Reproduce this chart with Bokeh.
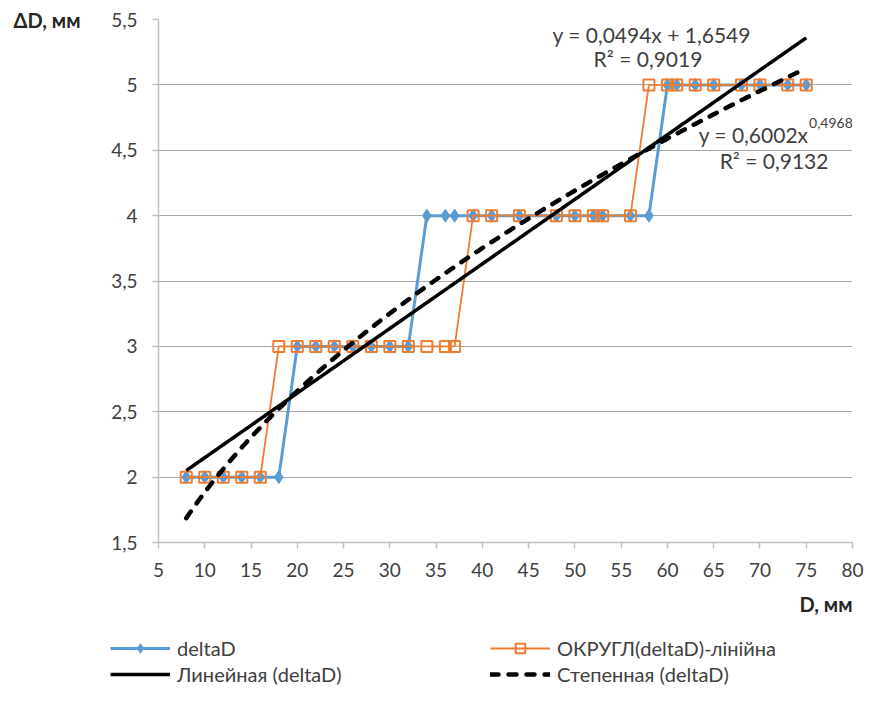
import numpy as np
from bokeh.plotting import figure
from bokeh.layouts import column, row
from bokeh.models import (Legend, LegendItem, Label, FixedTicker, Range1d,
                          LinearAxis, Title)
from bokeh.embed import file_html
from bokeh.resources import INLINE

# ---- data ----
D = [8, 10, 12, 14, 16, 18, 20, 22, 24, 26, 28, 30, 32, 34, 36, 37, 39, 41,
     44, 48, 50, 52, 53, 56, 58, 60, 61, 63, 65, 68, 70, 73, 75]
deltaD = [2, 2, 2, 2, 2, 2, 3, 3, 3, 3, 3, 3, 3, 4, 4, 4, 4, 4,
          4, 4, 4, 4, 4, 4, 4, 5, 5, 5, 5, 5, 5, 5, 5]
rounded = [2, 2, 2, 2, 2, 3, 3, 3, 3, 3, 3, 3, 3, 3, 3, 3, 4, 4,
           4, 4, 4, 4, 4, 4, 5, 5, 5, 5, 5, 5, 5, 5, 5]
lin_coef = [0.0494, 1.6549]      # y = a*x + b
pow_coef = [0.6002, 0.4968]      # y = a*x^b
x_ticks = [5, 10, 15, 20, 25, 30, 35, 40, 45, 50, 55, 60, 65, 70, 75, 80]
y_ticks = [1.5, 2, 2.5, 3, 3.5, 4, 4.5, 5, 5.5]
y_tick_labels = ["1,5", "2", "2,5", "3", "3,5", "4", "4,5", "5", "5,5"]
series_names = ["deltaD", "ОКРУГЛ(deltaD)-лінійна",
                "Линейная (deltaD)", "Степенная (deltaD)"]

FONT = "Lato"
TXT = "#404040"
blue = "#5B9BD5"
orange = "#ED7D31"

W = 869
H_MAIN = 628
H_LEG = 58

p = figure(width=W, height=H_MAIN, output_backend="svg", toolbar_location=None,
           x_range=Range1d(5, 80), y_range=Range1d(1.5, 5.5),
           min_border_left=158, min_border_right=17, min_border_top=19,
           min_border_bottom=H_MAIN - 542)
p.outline_line_color = None
p.background_fill_color = "white"
p.border_fill_color = "white"

# axes
for ax in (p.xaxis[0], p.yaxis[0]):
    ax.axis_line_color = "#BFBFBF"
    ax.axis_line_width = 1.5
    ax.major_tick_line_color = "#BFBFBF"
    ax.major_tick_line_width = 1.5
    ax.major_tick_in = 0
    ax.major_tick_out = 6
    ax.minor_tick_line_color = None
    ax.major_label_text_font = FONT
    ax.major_label_text_font_size = "19px"
    ax.major_label_text_color = TXT
p.xaxis.ticker = FixedTicker(ticks=x_ticks)
p.yaxis.ticker = FixedTicker(ticks=y_ticks)
p.yaxis.major_label_overrides = {t: l for t, l in zip(y_ticks, y_tick_labels)}
p.xaxis.major_label_standoff = 14
p.yaxis.major_label_standoff = 15
p.xgrid.grid_line_color = None
p.ygrid.grid_line_color = "#A6A6A6"
p.ygrid.grid_line_width = 1

# y axis title: an outer left axis with one labelled tick at the top
ytitle_axis = LinearAxis(ticker=FixedTicker(ticks=[y_ticks[-1]]),
                         major_label_overrides={y_ticks[-1]: "ΔD, мм"},
                         axis_line_color=None, major_tick_line_color=None,
                         major_tick_in=0, major_tick_out=0,
                         minor_tick_line_color=None,
                         major_label_standoff=28,
                         major_label_text_font=FONT,
                         major_label_text_font_size="20px",
                         major_label_text_font_style="bold",
                         major_label_text_color="#262626")
p.add_layout(ytitle_axis, "left")

# x axis title
xt = Title(text="D, мм", align="right", text_font=FONT, text_font_size="20px",
           text_font_style="bold", text_color="#262626", standoff=20)
p.add_layout(xt, "below")

# series
BLUE_LINE = dict(line_color=blue, line_width=3)
BLUE_MARK = dict(marker="diamond", size=13, fill_color=blue, line_color=blue)
OR_LINE = dict(line_color=orange, line_width=1.8)
OR_MARK = dict(marker="square", size=11, fill_color="white", fill_alpha=0.0,
               line_color=orange, line_width=2)
p.line(D, deltaD, **BLUE_LINE)
p.scatter(D, deltaD, **BLUE_MARK)
p.line(D, rounded, **OR_LINE)
p.scatter(D, rounded, **OR_MARK)

# trend lines
xs = np.linspace(min(D), max(D), 200)
lin_y = lin_coef[0] * xs + lin_coef[1]
pow_y = pow_coef[0] * xs ** pow_coef[1]
LIN_STYLE = dict(line_color="black", line_width=3.5)
POW_STYLE = dict(line_color="black", line_width=4.5, line_dash="8 10",
                 line_cap="round")
p.line(xs, lin_y, **LIN_STYLE)
p.line(xs, pow_y, **POW_STYLE)

# equations
def lab(x, y, t, size="21px", align="center"):
    p.add_layout(Label(x=x, y=y, text=t, text_font=FONT, text_font_size=size,
                       text_align=align, text_baseline="middle",
                       text_color=TXT))

lab(58.3, 5.385, "y = 0,0494x + 1,6549")
lab(57.9, 5.20, "R² = 0,9019")
lab(75.25, 4.62, "y = 0,6002x", align="right")
lab(75.3, 4.71, "0,4968", size="14px", align="left")
lab(77.4, 4.42, "R² = 0,9132", align="right")

# ---- legend strip (separate figure below; proxy renderers hold no
#      drawable point, they only lend their style to the legend) ----
q = figure(width=W, height=H_LEG, output_backend="svg", toolbar_location=None,
           x_range=Range1d(0, 1), y_range=Range1d(0, 1),
           x_axis_location=None, y_axis_location=None,
           min_border=0, min_border_left=0, min_border_right=0,
           min_border_top=0, min_border_bottom=0)
q.outline_line_color = None
q.grid.grid_line_color = None
q.background_fill_color = "white"
q.border_fill_color = "white"
nan = dict(x=[np.nan], y=[np.nan])
lb = q.line(**nan, **BLUE_LINE)
mb = q.scatter(**nan, **BLUE_MARK)
lo = q.line(**nan, **OR_LINE)
mo = q.scatter(**nan, **OR_MARK)
ll = q.line(**nan, **LIN_STYLE)
lp = q.line(**nan, **POW_STYLE)

def make_legend(items, y):
    return Legend(items=items, orientation="horizontal", location=(110, y),
                  glyph_width=60, glyph_height=24, label_width=313,
                  label_height=24, label_standoff=7, spacing=0, padding=0,
                  margin=0, label_text_font=FONT, label_text_font_size="20px",
                  label_text_color=TXT, border_line_color=None,
                  background_fill_alpha=0.0)

q.add_layout(make_legend([
    LegendItem(label=series_names[0], renderers=[lb, mb]),
    LegendItem(label=series_names[1], renderers=[lo, mo]),
], 26), "center")
q.add_layout(make_legend([
    LegendItem(label=series_names[2], renderers=[ll]),
    LegendItem(label=series_names[3], renderers=[lp]),
], 0), "center")

layout = column(p, row(q), spacing=0)
open("out.html", "w").write(file_html(layout, INLINE))
